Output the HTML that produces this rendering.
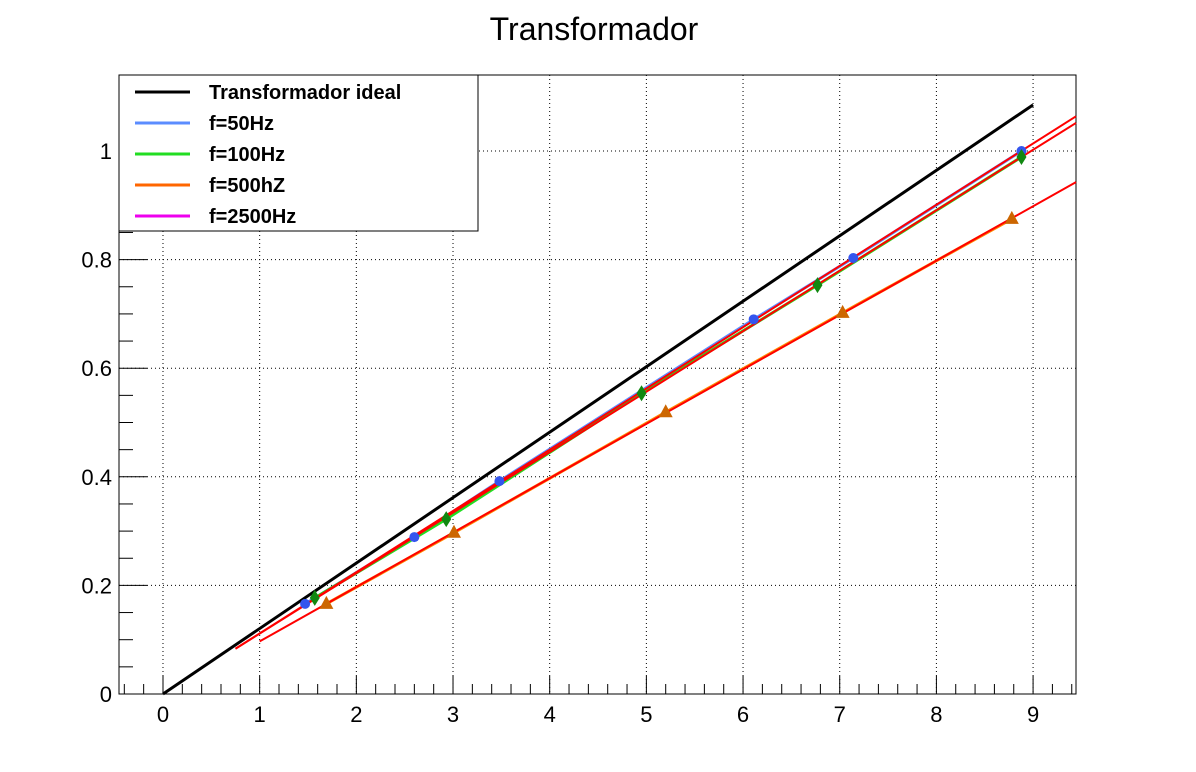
<!DOCTYPE html>
<html><head><meta charset="utf-8"><style>
html,body{margin:0;padding:0;background:#fff;}
svg{display:block;font-family:"Liberation Sans",sans-serif;}
</style></head><body>
<svg id="chart" width="1196" height="772"></svg>
<script>
const idealX=[0,9], idealY=[0,1.085];
const x50=[1.47,2.60,3.48,6.11,7.14,8.88], y50=[0.166,0.289,0.392,0.690,0.803,1.0];
const x100=[1.57,2.93,4.95,6.77,8.88], y100=[0.177,0.322,0.554,0.753,0.989];
const x500=[1.69,3.01,5.20,7.03,8.78], y500=[0.166,0.297,0.519,0.702,0.875];
const xTicks=[0,1,2,3,4,5,6,7,8,9];
const yTicks=[0,0.2,0.4,0.6,0.8,1];
const yTickLabels=["0","0.2","0.4","0.6","0.8","1"];
const legendLabels=["Transformador ideal","f=50Hz","f=100Hz","f=500hZ","f=2500Hz"];
const legendColors=["#000","#5b8cff","#22dd22","#ff6600","#ee00ee"];

const L=119,R=1076,T=75,B=694;
const XMIN=-0.455,XMAX=9.444,YMIN=0,YMAX=1.14;
const sx=v=>L+(v-XMIN)/(XMAX-XMIN)*(R-L);
const sy=v=>B-(v-YMIN)/(YMAX-YMIN)*(B-T);
const NS="http://www.w3.org/2000/svg";
const svg=document.getElementById('chart');
function mk(tag,attrs,parent){const e=document.createElementNS(NS,tag);for(const k in attrs)e.setAttribute(k,attrs[k]);(parent||svg).appendChild(e);return e;}

xTicks.forEach(v=>{const g=mk('line',{x1:sx(v),x2:sx(v),y1:T,y2:B,stroke:'#000','stroke-width':1,'stroke-dasharray':'1 3'});

});
yTicks.forEach(v=>{const g=mk('line',{x1:L,x2:R,y1:sy(v),y2:sy(v),stroke:'#000','stroke-width':1,'stroke-dasharray':'1 3'});

});

const fr=mk('rect',{x:L,y:T,width:R-L,height:B-T,fill:'none',stroke:'#000','stroke-width':1});



for(let i=-2;i<=47;i++){const v=i*0.2;if(v<XMIN||v>XMAX)continue;const major=i%5===0;
const t=mk('line',{x1:sx(v),x2:sx(v),y1:B,y2:B-(major?18:10),stroke:'#000','stroke-width':1});

}
xTicks.forEach(v=>{const t=mk('text',{x:sx(v),y:722,'font-size':22,'text-anchor':'middle',fill:'#000'});t.textContent=String(v);

});
for(let i=0;i<=22;i++){const v=i*0.05;const major=i%4===0;
const t=mk('line',{x1:L,x2:L+(major?28:14),y1:sy(v),y2:sy(v),stroke:'#000','stroke-width':1});

}
yTicks.forEach((v,i)=>{const t=mk('text',{x:112,y:sy(v)+8,'font-size':22,'text-anchor':'end',fill:'#000'});t.textContent=yTickLabels[i];

});

function fit(xs,ys){const n=xs.length;let mx=0,my=0;xs.forEach((x,i)=>{mx+=x;my+=ys[i];});mx/=n;my/=n;let sxy=0,sxx=0;xs.forEach((x,i)=>{sxy+=(x-mx)*(ys[i]-my);sxx+=(x-mx)*(x-mx);});const b=sxy/sxx;return [b,my-b*mx];}
function poly(xs,ys,color,w,name){const p=mk('polyline',{points:xs.map((x,i)=>sx(x)+','+sy(ys[i])).join(' '),fill:'none',stroke:color,'stroke-width':w});

}

poly(idealX,idealY,'#000',3,'ideal-line');
poly(x50,y50,'#5b8cff',3,'series-50hz-line');
poly(x100,y100,'#22dd22',3,'series-100hz-line');
poly(x500,y500,'#ff8800',3,'series-500hz-line');
[[x50,y50,0.75],[x100,y100,0.75],[x500,y500,1.0]].forEach(([xs,ys,x0])=>{const [b,a]=fit(xs,ys);
const f=mk('line',{x1:sx(x0),y1:sy(a+b*x0),x2:sx(XMAX),y2:sy(a+b*XMAX),stroke:'#ff0000','stroke-width':2});

});
x50.forEach((x,i)=>{const c=mk('circle',{cx:sx(x),cy:sy(y50[i]),r:5,fill:'#3355ee'});

});
x100.forEach((x,i)=>{const X=sx(x),Y=sy(y100[i]);const d=mk('polygon',{points:`${X},${Y-8} ${X+5},${Y} ${X},${Y+8} ${X-5},${Y}`,fill:'#118811'});

});
x500.forEach((x,i)=>{const X=sx(x),Y=sy(y500[i]);const d=mk('polygon',{points:`${X},${Y-8} ${X+7},${Y+5} ${X-7},${Y+5}`,fill:'#cc6600'});

});

const lg=mk('g',{});


mk('rect',{x:119,y:75,width:359,height:156,fill:'#fff',stroke:'#000','stroke-width':1},lg);
legendLabels.forEach((s,i)=>{const y=92+i*31;
const e=mk('g',{},lg);


mk('line',{x1:135,x2:190,y1:y,y2:y,stroke:legendColors[i],'stroke-width':3},e);
const t=mk('text',{x:209,y:y+7,'font-size':20,'font-weight':'bold',fill:'#000'},e);t.textContent=s;});

const tt=mk('text',{x:594,y:40,'font-size':32,'text-anchor':'middle',fill:'#000'});tt.textContent='Transformador';


</script>
</body></html>
